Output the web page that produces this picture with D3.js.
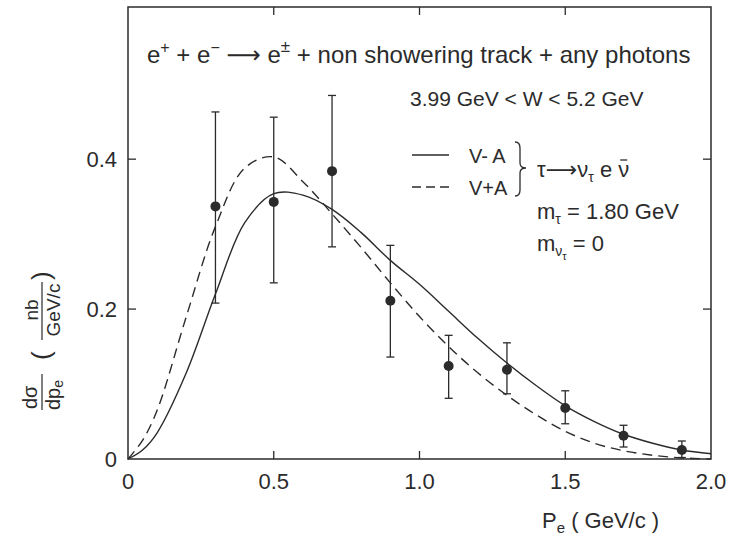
<!DOCTYPE html>
<html>
<head>
<meta charset="utf-8">
<script src="https://cdn.jsdelivr.net/npm/d3@7"></script>
<style>
  html, body { margin: 0; padding: 0; background: #fff; }
  svg { display: block; }
  text { font-family: "Liberation Sans", "DejaVu Sans", Arial, sans-serif; fill: #2b2b2b; }
</style>
</head>
<body>
<svg id="chart" width="739" height="538"></svg>
<script>
/* ── data ── */
const pBins    = [0.3, 0.5, 0.7, 0.9, 1.1, 1.3, 1.5, 1.7, 1.9];
const sigma    = [0.337, 0.343, 0.384, 0.211, 0.124, 0.119, 0.068, 0.031, 0.012];
const errHi    = [0.463, 0.456, 0.485, 0.285, 0.165, 0.155, 0.091, 0.045, 0.024];
const errLo    = [0.208, 0.235, 0.283, 0.136, 0.081, 0.087, 0.047, 0.016, 0.002];

const curveX   = [0, 0.05, 0.1, 0.2, 0.3, 0.4, 0.5, 0.6, 0.7, 0.8, 0.9, 1.0, 1.1, 1.2, 1.3, 1.4, 1.5, 1.6, 1.7, 1.8, 1.9, 2.0];
const vMinusA  = [0, 0.012, 0.035, 0.115, 0.220, 0.315, 0.354, 0.352, 0.333, 0.302, 0.265, 0.233, 0.197, 0.161, 0.128, 0.098, 0.071, 0.050, 0.033, 0.021, 0.012, 0.007];
const vPlusA   = [0, 0.025, 0.065, 0.19, 0.31, 0.388, 0.403, 0.37, 0.327, 0.282, 0.235, 0.19, 0.15, 0.115, 0.085, 0.059, 0.037, 0.021, 0.011, 0.005, 0.0015, 0];

const xTicks   = [0, 0.5, 1.0, 1.5, 2.0];
const xLabels  = ["0", "0.5", "1.0", "1.5", "2.0"];
const yTicks   = [0, 0.2, 0.4];
const yLabels  = ["0", "0.2", "0.4"];

const INK = "#2b2b2b";
const svg = d3.select("#chart");

const x = d3.scaleLinear().domain([0, 2.0]).range([128, 711]);
const y = d3.scaleLinear().domain([0, 0.603]).range([459, 7]);

/* ── frame ── */
svg.append("rect")
  .attr("x", x(0)).attr("y", y(0.603))
  .attr("width", x(2.0) - x(0)).attr("height", y(0) - y(0.603))
  .attr("fill", "none").attr("stroke", INK).attr("stroke-width", 1.5);

/* inward ticks on all four sides */
const TK = 8;
const inner = xTicks.filter(v => v > 0 && v < 2);
svg.append("g").selectAll("line").data(inner).join("line")
  .attr("x1", d => x(d)).attr("x2", d => x(d))
  .attr("y1", y(0)).attr("y2", y(0) - TK)
  .attr("stroke", INK).attr("stroke-width", 1.3);
svg.append("g").selectAll("line").data(inner).join("line")
  .attr("x1", d => x(d)).attr("x2", d => x(d))
  .attr("y1", y(0.603)).attr("y2", y(0.603) + TK)
  .attr("stroke", INK).attr("stroke-width", 1.3);
const innerY = yTicks.filter(v => v > 0);
svg.append("g").selectAll("line").data(innerY).join("line")
  .attr("x1", x(0)).attr("x2", x(0) + TK)
  .attr("y1", d => y(d)).attr("y2", d => y(d))
  .attr("stroke", INK).attr("stroke-width", 1.3);
svg.append("g").selectAll("line").data(innerY).join("line")
  .attr("x1", x(2.0)).attr("x2", x(2.0) - TK)
  .attr("y1", d => y(d)).attr("y2", d => y(d))
  .attr("stroke", INK).attr("stroke-width", 1.3);

/* tick labels */
svg.append("g").selectAll("text").data(xTicks).join("text")
  .attr("x", d => x(d)).attr("y", y(0) + 30)
  .attr("text-anchor", "middle").attr("font-size", 22)
  .text((d, i) => xLabels[i]);
svg.append("g").selectAll("text").data(yTicks).join("text")
  .attr("x", x(0) - 11).attr("y", d => y(d) + 8)
  .attr("text-anchor", "end").attr("font-size", 22)
  .text((d, i) => yLabels[i]);

/* ── curves ── */
const line = d3.line().x(d => x(d[0])).y(d => y(d[1])).curve(d3.curveCatmullRom);
svg.append("path").datum(curveX.map((v, i) => [v, vMinusA[i]]))
  .attr("d", line).attr("fill", "none").attr("stroke", INK).attr("stroke-width", 1.4);
svg.append("path").datum(curveX.map((v, i) => [v, vPlusA[i]]))
  .attr("d", line).attr("fill", "none").attr("stroke", INK).attr("stroke-width", 1.4)
  .attr("stroke-dasharray", "10,6");

/* ── data points with error bars ── */
const gPts = svg.append("g");
pBins.forEach((p, i) => {
  const cx = x(p);
  gPts.append("line").attr("x1", cx).attr("x2", cx)
    .attr("y1", y(errLo[i])).attr("y2", y(errHi[i]))
    .attr("stroke", INK).attr("stroke-width", 1.3);
  [errLo[i], errHi[i]].forEach(v => {
    gPts.append("line").attr("x1", cx - 4).attr("x2", cx + 4)
      .attr("y1", y(v)).attr("y2", y(v))
      .attr("stroke", INK).attr("stroke-width", 1.3);
  });
  gPts.append("circle").attr("cx", cx).attr("cy", y(sigma[i])).attr("r", 5).attr("fill", INK);
});

/* ── annotations ── */
const title = svg.append("text").attr("x", 147).attr("y", 63).attr("font-size", 24);
title.append("tspan").text("e");
title.append("tspan").attr("dy", -10).attr("font-size", 16).text("+");
title.append("tspan").attr("dy", 10).text(" + e");
title.append("tspan").attr("dy", -10).attr("font-size", 16).text("\u2212");
title.append("tspan").attr("dy", 10).text(" \u27f6 e");
title.append("tspan").attr("dy", -11).attr("font-size", 17).text("\u00b1");
title.append("tspan").attr("dy", 11).text(" + non showering  track + any  photons");

svg.append("text").attr("x", 410).attr("y", 106).attr("font-size", 21)
  .text("3.99  GeV < W < 5.2  GeV");

/* legend */
svg.append("line").attr("x1", 412).attr("x2", 449).attr("y1", 155).attr("y2", 155)
  .attr("stroke", INK).attr("stroke-width", 1.4);
svg.append("line").attr("x1", 412).attr("x2", 449).attr("y1", 187).attr("y2", 187)
  .attr("stroke", INK).attr("stroke-width", 1.4).attr("stroke-dasharray", "9,5");
svg.append("text").attr("x", 469).attr("y", 163).attr("font-size", 20).text("V- A");
svg.append("text").attr("x", 469).attr("y", 195).attr("font-size", 20).text("V+A");
svg.append("path")
  .attr("d", "M515,142 Q520,142 520,148 L520,163 Q520,168 526,168 Q520,168 520,173 L520,190 Q520,196 515,196")
  .attr("fill", "none").attr("stroke", INK).attr("stroke-width", 1.3);

const decay = svg.append("text").attr("x", 537).attr("y", 177).attr("font-size", 22);
decay.append("tspan").text("\u03c4\u27f6\u03bd");
decay.append("tspan").attr("dy", 5).attr("font-size", 14).text("\u03c4");
decay.append("tspan").attr("dy", -5).text(" e ");
decay.append("tspan").text("\u03bd");
/* bar over the antineutrino */
const nb = decay.node().getExtentOfChar(decay.node().getNumberOfChars() - 1);
svg.append("line").attr("x1", nb.x + 2).attr("x2", nb.x + nb.width - 2)
  .attr("y1", nb.y + 3).attr("y2", nb.y + 3)
  .attr("stroke", INK).attr("stroke-width", 1.3);

const mt = svg.append("text").attr("x", 537).attr("y", 219).attr("font-size", 22);
mt.append("tspan").text("m");
mt.append("tspan").attr("dy", 5).attr("font-size", 14).text("\u03c4");
mt.append("tspan").attr("dy", -5).text("  = 1.80 GeV");

const mn = svg.append("text").attr("x", 537).attr("y", 251).attr("font-size", 22);
mn.append("tspan").text("m");
mn.append("tspan").attr("dy", 5).attr("font-size", 14).text("\u03bd");
mn.append("tspan").attr("dy", 4).attr("font-size", 11).text("\u03c4");
mn.append("tspan").attr("dy", -9).text(" = 0");

/* x axis title */
const xt = svg.append("text").attr("x", 542).attr("y", 528).attr("font-size", 22);
xt.append("tspan").text("P");
xt.append("tspan").attr("dy", 5).attr("font-size", 15).text("e");
xt.append("tspan").attr("dy", -5).text(" ( GeV/c )");

/* y axis title, rotated, fractions built from tspans */
const yl = svg.append("g").attr("transform", "translate(42,410) rotate(-90)");
yl.append("text").attr("x", 1).attr("y", -5).attr("font-size", 20).text("d\u03c3");
const den = yl.append("text").attr("x", 0).attr("y", 18).attr("font-size", 20);
den.append("tspan").text("dp");
den.append("tspan").attr("dy", 3).attr("font-size", 14).text("e");
yl.append("line").attr("x1", 0).attr("x2", 36).attr("y1", 0).attr("y2", 0)
  .attr("stroke", INK).attr("stroke-width", 1.2);
yl.append("text").attr("x", 50).attr("y", 8).attr("font-size", 26).text("(");
yl.append("text").attr("x", 100).attr("y", -4).attr("font-size", 19)
  .attr("text-anchor", "middle").text("nb");
yl.append("text").attr("x", 100).attr("y", 18).attr("font-size", 19)
  .attr("text-anchor", "middle").text("GeV/c");
yl.append("line").attr("x1", 70).attr("x2", 128).attr("y1", 0).attr("y2", 0)
  .attr("stroke", INK).attr("stroke-width", 1.2);
yl.append("text").attr("x", 130).attr("y", 8).attr("font-size", 26).text(")");
</script>
</body>
</html>
